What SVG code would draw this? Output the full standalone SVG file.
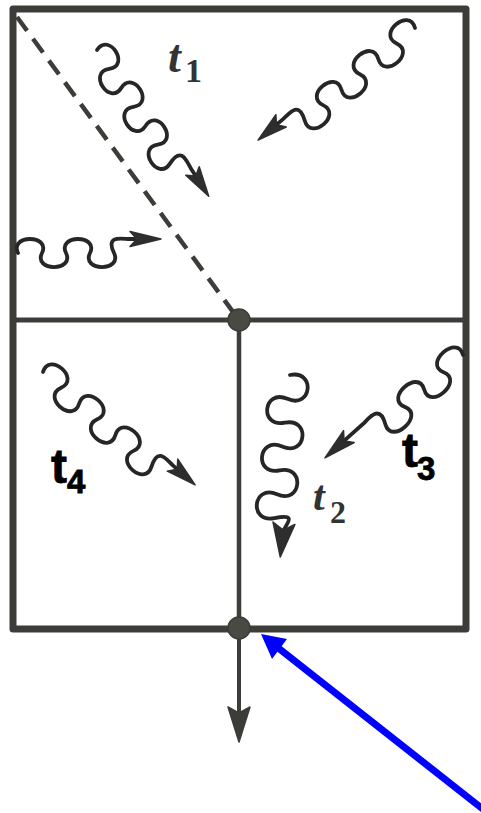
<svg xmlns="http://www.w3.org/2000/svg" width="481" height="813" viewBox="0 0 481 813">
<style>
.frame{fill:none;stroke:#3c3c38;stroke-width:7;stroke-linejoin:round}
.line{fill:none;stroke:#3c3c38;stroke-width:5;stroke-linecap:round}
.wave{fill:none;stroke:#262626;stroke-width:3.8;stroke-linecap:round;stroke-linejoin:round}
.head{fill:#2e2e2e;stroke:#2e2e2e;stroke-width:1.5;stroke-linejoin:round}
.node{fill:#4a4a45;stroke:#3c3c38;stroke-width:1.5}
.it{font-family:"Liberation Serif",serif;font-style:italic;font-weight:bold;fill:#333}
.sub{font-family:"Liberation Serif",serif;font-weight:bold;fill:#333}
.lbl{font-family:"Liberation Sans",Arial,sans-serif;font-weight:bold;fill:#000;stroke:#000;stroke-width:0.8}
</style>
<g id="frame">
  <rect class="frame" x="13" y="9" width="453" height="620"/>
  <line class="line" x1="13" y1="320" x2="466" y2="320"/>
  <line class="line" x1="239" y1="320" x2="239" y2="628" style="stroke-width:4.5"/>
</g>
<g id="connectors">
  <line class="line" x1="17" y1="17" x2="236" y2="316" style="stroke-width:4.5;stroke-dasharray:17 10;stroke-linecap:butt"/>
  <line class="line" x1="239" y1="628" x2="239" y2="714" style="stroke-width:4"/>
  <polygon class="head" points="239,742 228,707 239,713 250,707" style="fill:#3c3c38;stroke:#3c3c38"/>
  <line x1="498" y1="821" x2="277" y2="647" stroke="#0000ff" stroke-width="7"/>
  <polygon points="261,634 287,639 272,659" fill="#0000ff"/>
</g>
<g id="node-top"><circle class="node" cx="239" cy="320" r="11"/></g>
<g id="node-bottom"><circle class="node" cx="239" cy="628" r="11"/></g>
<g id="wave-t1" transform="translate(97,50) rotate(57.3)">
  <path class="wave" d="M0,0 c-9,-20 31.5,-20 22.5,0 s31.5,20 22.5,0 s31.5,-20 22.5,0 s31.5,20 22.5,0 s31.5,-20 22.5,0 s31.5,20 22.5,0 s8,-15 16,-15 L160,-15"/>
  <polygon class="head" points="183.4,-15 153.4,-23 159.4,-15 153.4,-7"/>
</g>
<g id="wave-topright" transform="translate(415,28) rotate(140) scale(1,-1)">
  <path class="wave" d="M0,0 c-9,-20 33,-20 24,0 s33,20 24,0 s33,-20 24,0 s33,20 24,0 s33,-20 24,0 s33,20 24,0 s8,-15 16,-15 L168,-15"/>
  <polygon class="head" points="192.3,-15 162.3,-23 168.3,-15 162.3,-7"/>
</g>
<g id="wave-left" transform="translate(18,253)">
  <path class="wave" d="M0,0 c-9,-18.7 33,-18.7 24,0 s33,18.7 24,0 s33,-18.7 24,0 s33,18.7 24,0 s9,-14 15,-14 L119,-14"/>
  <polygon class="head" points="143,-14 112,-21.5 119,-14 112,-6.5"/>
</g>
<g id="wave-t4" transform="translate(43,372) rotate(41.1)">
  <path class="wave" d="M0,0 c-9,-20 33,-20 24,0 s33,20 24,0 s33,-20 24,0 s33,20 24,0 s33,-20 24,0 s33,20 24,0 s8,-15 16,-15 L165,-15"/>
  <polygon class="head" points="188.8,-15 158.8,-23 165,-15 158.8,-7"/>
</g>
<g id="wave-t2" transform="translate(290,375) rotate(96.2)">
  <path class="wave" d="M0,0 c-8,-25.3 32,-25.3 24,0 s32,25.3 24,0 s32,-25.3 24,0 s32,25.3 24,0 s32,-25.3 24,0 s32,25.3 24,0 s6,-10 14,-10 L155,-10"/>
  <polygon class="head" points="182,-10 148,-21 155,-10 148,1"/>
</g>
<g id="wave-t3" transform="translate(463,355) rotate(138.3) scale(1,-1)">
  <path class="wave" d="M0,0 c-10,-20 36,-20 26,0 s36,20 26,0 s36,-20 26,0 s36,20 26,0 s10,-15 17,-15 L146,-15"/>
  <polygon class="head" points="171.5,-15 139.5,-23 146,-15 139.5,-7"/>
</g>
<g id="labels">
  <text class="it" x="168" y="72" font-size="46">t</text>
  <text class="sub" x="185" y="82" font-size="34">1</text>
  <text class="it" x="313" y="510" font-size="42">t</text>
  <text class="sub" x="330" y="523" font-size="32">2</text>
  <text class="lbl" x="51" y="483" font-size="48">t<tspan x="67" y="493" font-size="33">4</tspan></text>
  <text class="lbl" x="402" y="467" font-size="48">t<tspan x="417" y="480" font-size="33">3</tspan></text>
</g>
</svg>
